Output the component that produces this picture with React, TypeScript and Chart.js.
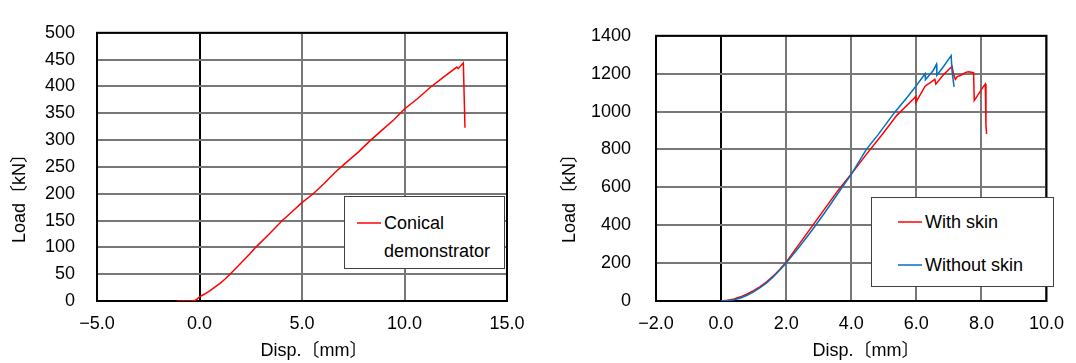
import React, { useEffect, useRef } from "react";
import { Chart, registerables } from "chart.js";

Chart.register(...registerables);

// ---------- Left chart data ----------
const conicalLabel = ["Conical", "demonstrator"];
const conicalDisp = [-1.11, -0.8, -0.5, -0.35, -0.2, -0.1, 0.0, 0.25, 0.5, 0.75, 1.0, 1.25, 1.49, 2.0, 2.46, 2.74, 3.4, 4.04, 4.5, 4.98, 5.52, 6.08, 6.62, 7.12, 7.76, 8.3, 8.89, 9.48, 10.0, 10.66, 11.25, 11.92, 12.55, 12.62, 12.87, 12.95];
const conicalLoad = [0, 0, 0, 0.3, 1.5, 4, 7.7, 13, 19, 26, 33, 41, 50, 70, 88, 100, 125, 150, 166, 183, 199, 219, 240, 257, 278, 298, 318, 338, 358, 378, 398, 418, 436, 433, 444, 323];
const leftXTicks = [-5, 0, 5, 10, 15];
const leftYTicks = [0, 50, 100, 150, 200, 250, 300, 350, 400, 450, 500];

// ---------- Right chart data ----------
const withSkinLabel = "With skin";
const withSkinDisp = [0, 0.2, 0.4, 0.6, 0.8, 1.0, 1.2, 1.4, 1.6, 1.8, 2.0, 2.4, 2.8, 3.2, 3.6, 4.0, 4.5, 5.0, 5.4, 5.8, 5.98, 5.99, 6.27, 6.57, 6.6, 6.82, 7.02, 7.1, 7.14, 7.2, 7.26, 7.37, 7.52, 7.6, 7.76, 7.78, 8.07, 8.12, 8.14, 8.16];
const withSkinLoad = [0, 4, 11, 22, 37, 55, 76, 101, 131, 166, 205, 300, 395, 490, 585, 670, 782, 890, 980, 1048, 1078, 1050, 1134, 1170, 1145, 1192, 1226, 1238, 1200, 1170, 1185, 1192, 1207, 1210, 1205, 1058, 1134, 1145, 927, 882];
const withoutSkinLabel = "Without skin";
const withoutSkinDisp = [0, 0.2, 0.4, 0.6, 0.8, 1.0, 1.2, 1.4, 1.6, 1.8, 2.0, 2.4, 2.8, 3.2, 3.6, 4.0, 4.47, 4.82, 5.32, 5.72, 6.0, 6.27, 6.28, 6.52, 6.62, 6.63, 6.82, 7.07, 7.1, 7.16];
const withoutSkinLoad = [0, 2, 7, 16, 30, 48, 70, 96, 127, 162, 200, 285, 375, 470, 570, 668, 802, 877, 993, 1076, 1137, 1200, 1168, 1217, 1250, 1192, 1234, 1295, 1209, 1130];
const rightXTicks = [-2, 0, 2, 4, 6, 8, 10];
const rightYTicks = [0, 200, 400, 600, 800, 1000, 1200, 1400];

const xTitle = "Disp.〔mm〕";
const yTitle = "Load〔kN〕";

const FONT = "'Liberation Sans', 'Noto Sans CJK JP', Arial, sans-serif";
const RED = "#ff0000";
const BLUE = "#0070c0";
const GRID = "#777777";

const toPoints = (xs: number[], ys: number[]) => xs.map((x, i) => ({ x, y: ys[i] }));

const frame = {
  id: "frame",
  beforeDatasetsDraw(chart: any) {
    const { ctx, chartArea: a } = chart;
    ctx.save();
    ctx.strokeStyle = "#000";
    ctx.lineWidth = 2;
    ctx.strokeRect(a.left, a.top, a.right - a.left, a.bottom - a.top);
    ctx.restore();
  },
};

function makeConfig(opts: {
  datasets: any[];
  xTicks: number[];
  yTicks: number[];
  yWidth: number;
  padRight: number;
  yPad: number;
}) {
  const { datasets, xTicks, yTicks, yWidth, padRight, yPad } = opts;
  return {
    type: "line" as const,
    data: { datasets },
    plugins: [frame],
    options: {
      animation: false,
      responsive: false,
      maintainAspectRatio: false,
      layout: { padding: { top: 20, right: padRight, bottom: 0, left: 0 } },
      plugins: { legend: { display: false }, tooltip: { enabled: false } },
      elements: { point: { radius: 0 }, line: { tension: 0 } },
      scales: {
        x: {
          type: "linear",
          min: xTicks[0],
          max: xTicks[xTicks.length - 1],
          afterBuildTicks: (s: any) => {
            s.ticks = xTicks.map((v) => ({ value: v }));
          },
          afterFit: (s: any) => {
            s.height = 62;
          },
          grid: {
            color: (c: any) => (c.tick && c.tick.value === 0 ? "#000" : GRID),
            lineWidth: 2,
            drawTicks: false,
          },
          border: { display: false },
          ticks: {
            autoSkip: false,
            maxRotation: 0,
            padding: 12,
            color: "#000",
            font: { family: FONT, size: 18 },
            callback: (v: any) => (Number(v) < 0 ? "\u2212" + Math.abs(Number(v)).toFixed(1) : Number(v).toFixed(1)),
          },
        },
        y: {
          type: "linear",
          min: yTicks[0],
          max: yTicks[yTicks.length - 1],
          afterBuildTicks: (s: any) => {
            s.ticks = yTicks.map((v) => ({ value: v }));
          },
          afterFit: (s: any) => {
            s.width = yWidth;
          },
          grid: {
            color: (c: any) => (c.tick && c.tick.value === 0 ? "#000" : GRID),
            lineWidth: 2,
            drawTicks: false,
          },
          border: { display: false },
          ticks: {
            autoSkip: false,
            padding: yPad,
            color: "#000",
            font: { family: FONT, size: 18 },
            callback: (v: any) => String(v),
          },
        },
      },
    },
  };
}

function ChartCanvas({ config, left }: { config: any; left: number }) {
  const ref = useRef<HTMLCanvasElement | null>(null);
  useEffect(() => {
    if (!ref.current) return;
    const chart = new Chart(ref.current, config);
    return () => chart.destroy();
  }, [config]);
  return (
    <canvas
      ref={ref}
      width={538}
      height={363}
      style={{ position: "absolute", left, top: 0, width: 538, height: 363 }}
    />
  );
}

const textStyle: React.CSSProperties = {
  position: "absolute",
  fontFamily: FONT,
  fontSize: 18,
  color: "#000",
  whiteSpace: "nowrap",
  lineHeight: 1,
};

function YTitle({ cx, cy }: { cx: number; cy: number }) {
  return (
    <div style={{ ...textStyle, left: cx, top: cy, transform: "translate(-50%, -50%) rotate(-90deg)" }}>{yTitle}</div>
  );
}
function XTitle({ cx, cy }: { cx: number; cy: number }) {
  return <div style={{ ...textStyle, left: cx, top: cy, transform: "translate(-50%, -50%)" }}>{xTitle}</div>;
}

function LegendBox({
  left,
  top,
  width,
  height,
  items,
}: {
  left: number;
  top: number;
  width: number;
  height: number;
  items: { label: string[]; color: string; y: number; lineX: number; textX: number }[];
}) {
  return (
    <div
      style={{
        position: "absolute",
        left,
        top,
        width,
        height,
        border: "1px solid #404040",
        background: "#fff",
        boxSizing: "border-box",
      }}
    >
      {items.map((it, i) => (
        <React.Fragment key={i}>
          <div
            style={{
              position: "absolute",
              left: it.lineX,
              top: it.y - 1,
              width: 24,
              height: 2,
              background: it.color,
              opacity: 0.75,
            }}
          />
          {it.label.map((t, j) => (
            <div key={j} style={{ ...textStyle, left: it.textX, top: it.y - 9 + j * 28 }}>
              {t}
            </div>
          ))}
        </React.Fragment>
      ))}
    </div>
  );
}

export default function App() {
  const leftConfig = React.useMemo(
    () =>
      makeConfig({
        datasets: [
          {
            label: conicalLabel.join(" "),
            data: toPoints(conicalDisp, conicalLoad),
            borderColor: RED,
            borderWidth: 1.5,
          },
        ],
        xTicks: leftXTicks,
        yTicks: leftYTicks,
        yWidth: 97,
        padRight: 31,
        yPad: 22,
      }),
    []
  );
  const rightConfig = React.useMemo(
    () =>
      makeConfig({
        datasets: [
          {
            label: withoutSkinLabel,
            data: toPoints(withoutSkinDisp, withoutSkinLoad),
            borderColor: BLUE,
            borderWidth: 1.5,
          },
          {
            label: withSkinLabel,
            data: toPoints(withSkinDisp, withSkinLoad),
            borderColor: RED,
            borderWidth: 1.5,
          },
        ],
        xTicks: rightXTicks,
        yTicks: rightYTicks,
        yWidth: 118,
        padRight: 20,
        yPad: 25,
      }),
    []
  );

  return (
    <div style={{ position: "absolute", left: 0, top: 0, width: 1076, height: 363, background: "#fff", overflow: "hidden" }}>
      <ChartCanvas config={leftConfig} left={0} />
      <ChartCanvas config={rightConfig} left={538} />
      <YTitle cx={19} cy={194} />
      <YTitle cx={569} cy={194} />
      <XTitle cx={314} cy={350} />
      <XTitle cx={866} cy={350} />
      <LegendBox
        left={344}
        top={196}
        width={161}
        height={73}
        items={[{ label: conicalLabel, color: RED, y: 26, lineX: 12, textX: 39 }]}
      />
      <LegendBox
        left={871}
        top={197}
        width={183}
        height={90}
        items={[
          { label: [withSkinLabel], color: RED, y: 24, lineX: 26, textX: 53 },
          { label: [withoutSkinLabel], color: BLUE, y: 67, lineX: 26, textX: 53 },
        ]}
      />
    </div>
  );
}
